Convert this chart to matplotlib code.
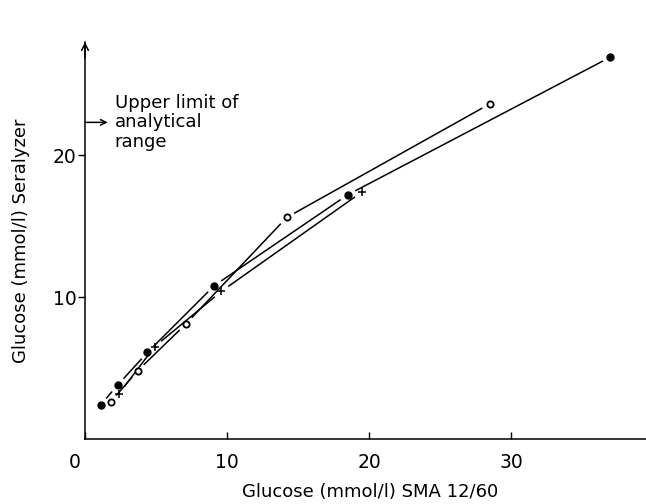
import numpy as np
import matplotlib
matplotlib.use("Agg")
import matplotlib.pyplot as plt
import matplotlib.transforms as mtransforms

plt.rcParams['font.family'] = ['DejaVu Sans']

# 黒丸
filled_x = [1.1, 2.3, 4.4, 9.1, 18.5, 37.0]
filled_y = [2.4, 3.8, 6.1, 10.8, 17.2, 26.9]
# 白丸
open_x = [1.8, 3.7, 7.1, 14.2, 28.5]
open_y = [2.6, 4.8, 8.1, 15.6, 23.6]
# 十字
cross_x = [2.4, 4.9, 9.6, 19.5]
cross_y = [3.2, 6.5, 10.4, 17.4]

x_ticks = [0, 10, 20, 30]
y_ticks = [10, 20]
upper_limit = 22.3


def gapped_line(ax, xs, ys, gap=0.6, **kw):
    """マーカーの手前で線を切る"""
    for i in range(len(xs) - 1):
        x0, y0, x1, y1 = xs[i], ys[i], xs[i + 1], ys[i + 1]
        d = np.hypot(x1 - x0, y1 - y0)
        ux, uy = (x1 - x0) / d, (y1 - y0) / d
        ax.plot([x0 + ux * gap, x1 - ux * gap], [y0 + uy * gap, y1 - uy * gap], **kw)


fig = plt.figure(figsize=(6.46, 5.04), dpi=100)
ax = fig.add_axes([85 / 646, 65 / 504, 561 / 646, 397 / 504])
ax.set_xlim(0, 39.5)
ax.set_ylim(0, 27.96)

line_kw = dict(color='black', lw=1.1, solid_capstyle='butt')
gapped_line(ax, filled_x, filled_y, **line_kw)
gapped_line(ax, open_x, open_y, **line_kw)
gapped_line(ax, cross_x, cross_y, **line_kw)

ax.plot(filled_x, filled_y, 'o', color='black', ms=5, ls='none')
ax.plot(open_x, open_y, 'o', mfc='white', mec='black', mew=1.3, ms=4.5, ls='none')
ax.plot(cross_x, cross_y, '+', color='black', ms=6, mew=1.1, ls='none')

for s in ['top', 'right']:
    ax.spines[s].set_visible(False)
for s in ['left', 'bottom']:
    ax.spines[s].set_linewidth(1.1)

ax.set_xticks(x_ticks)
ax.set_yticks(y_ticks)
ax.tick_params(axis='x', direction='in', length=5, width=1, labelsize=13.5, pad=10)
ax.tick_params(axis='y', direction='out', length=5, width=1, labelsize=13.5, pad=1)

# 「0」は軸より少し左
lbl0 = ax.get_xticklabels()[0]
lbl0.set_transform(lbl0.get_transform() +
                   mtransforms.ScaledTranslation(-10 / 100, 0, fig.dpi_scale_trans))

ax.set_xlabel('Glucose (mmol/l) SMA 12/60', fontsize=13)
ax.xaxis.set_label_coords((370 - 85) / 561, (439 - 492) / 397)
ax.xaxis.label.set_va('center')
ax.set_ylabel('Glucose (mmol/l) Seralyzer', fontsize=13)
ax.yaxis.set_label_coords((21 - 85) / 561, 0.5)
ax.yaxis.label.set_va('center')

# 縦軸の矢印
ax.annotate('', xy=(0, 1.0), xytext=(0, 0.96), xycoords='axes fraction',
            arrowprops=dict(arrowstyle='->', lw=1.1, color='black',
                            mutation_scale=12, shrinkA=0, shrinkB=0),
            annotation_clip=False)

# 測定上限
ax.annotate('', xy=(1.6, upper_limit), xytext=(0, upper_limit),
            arrowprops=dict(arrowstyle='->', lw=1.1, color='black',
                            mutation_scale=10, shrinkA=0, shrinkB=0))
ax.text(2.1, upper_limit, 'Upper limit of\nanalytical\nrange', fontsize=13,
        ha='left', va='center', linespacing=1.1)

fig.savefig('out.png', dpi=100)
